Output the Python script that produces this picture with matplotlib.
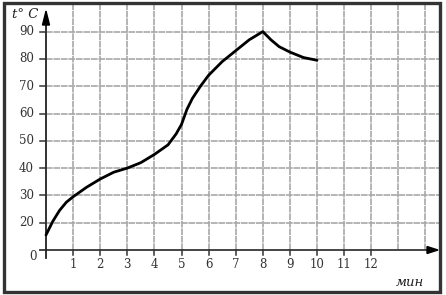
import matplotlib
matplotlib.use("Agg")
import matplotlib.pyplot as plt
from matplotlib.patches import Rectangle, Polygon

# data
minutes = [0, 0.25, 0.5, 0.75, 1, 1.5, 2, 2.5, 3, 3.5, 4, 4.5, 4.8, 5, 5.2, 5.4, 5.7, 6, 6.5, 7, 7.5, 8,
           8.3, 8.6, 9, 9.5, 10]
temps = [15.5, 20.5, 24.5, 27.5, 29.5, 33, 36, 38.5, 40, 42, 45, 48.5, 52.5, 56, 61.5, 65.5, 70, 74, 79, 83, 87, 90,
         87, 84.5, 82.5, 80.5, 79.5]
x_ticks = [1, 2, 3, 4, 5, 6, 7, 8, 9, 10, 11, 12]
x_grid = list(range(1, 15))
y_ticks = [20, 30, 40, 50, 60, 70, 80, 90]

W, H = 446, 295
fig = plt.figure(figsize=(W / 100, H / 100), dpi=100)
ax = fig.add_axes([0, 0, 1, 1])
ax.axis('off')

# pixel mapping: x=0 at px 46, 27.1 px/unit; y=10 at px 250, 27.3 px per 10 deg
x0, sx = 46.0, 27.1
y0, sy = 250.0, 2.73
ax.set_xlim(-x0 / sx, (W - x0) / sx)
ax.set_ylim(10 - (H - y0) / sy, 10 + y0 / sy)

def px2x(p):
    return (p - x0) / sx

def px2y(p):
    return 10 + (y0 - p) / sy

ybase = 10
gcol = '#a8a8a8'
gls = (0, (4, 0.5))
xr = px2x(439)
ytop = px2y(4)
for gx in x_grid:
    ax.plot([gx, gx], [ybase, ytop], color=gcol, lw=1.2, ls=gls, zorder=1)
for gy in y_ticks:
    ax.plot([0, xr], [gy, gy], color=gcol, lw=1.2, ls=gls, zorder=1)

# axes
ax.plot([px2x(40), px2x(428)], [ybase, ybase], color='#444444', lw=1.4, zorder=3)
ax.plot([0, 0], [px2y(258), px2y(22)], color='#222222', lw=1.3, zorder=3)
ax.add_patch(Polygon([[px2x(427), px2y(246.5)], [px2x(438), ybase], [px2x(427), px2y(253.5)]],
                     closed=True, color='black', zorder=4))
ax.add_patch(Polygon([[px2x(42.5), px2y(25)], [0, px2y(11)], [px2x(49.5), px2y(25)]],
                     closed=True, color='black', zorder=4))

# ticks
tfont = dict(fontsize=8.5, family='DejaVu Serif', color='#333333')
for t in x_ticks:
    ax.plot([t, t], [ybase, px2y(255)], color='#333333', lw=1.1, zorder=3)
    ax.text(t, px2y(265), str(t), ha='center', va='center', **tfont)
for t in y_ticks:
    ax.plot([px2x(40), 0], [t, t], color='#333333', lw=1.1, zorder=3)
    ax.text(px2x(34), t, str(t), ha='right', va='center', **tfont)
ax.text(px2x(37), px2y(257), '0', ha='right', va='center', **tfont)

ax.text(px2x(12), px2y(15), 't° C', ha='left', va='center', fontsize=9.5,
        family='DejaVu Serif', style='italic', color='#222222')
ax.text(px2x(424), px2y(283), 'мин', ha='right', va='center', fontsize=9.5,
        family='DejaVu Serif', style='italic', color='#222222')

# curve
ax.plot(minutes, temps, color='black', lw=2.0, solid_joinstyle='round',
        solid_capstyle='round', zorder=5)

# outer frame
fig.patches.append(Rectangle((4 / W, 3 / H), (440 - 4) / W, (292 - 3) / H,
                             transform=fig.transFigure, fill=False,
                             edgecolor='#333333', lw=2.4, zorder=10))

fig.savefig('out.png', dpi=100)
